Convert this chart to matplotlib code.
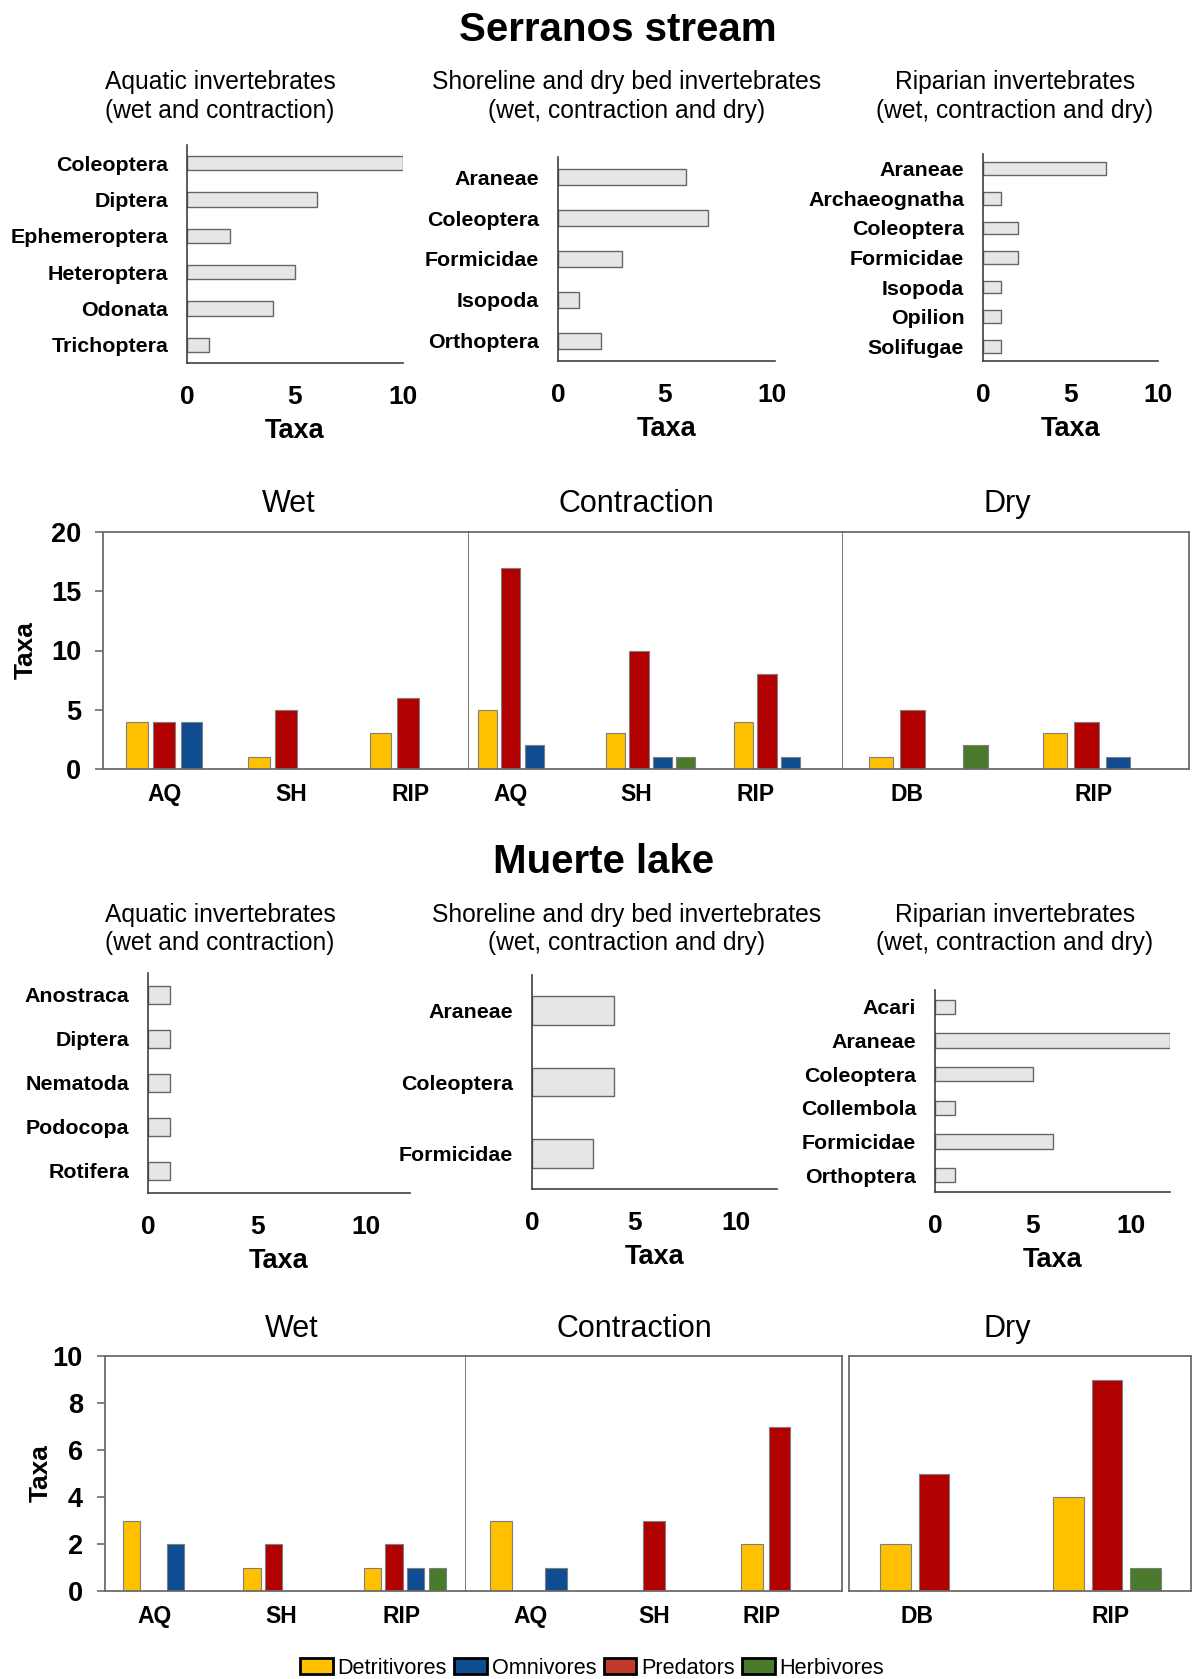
import matplotlib.pyplot as plt
from matplotlib.patches import Patch
import numpy as np

plt.rcParams['font.family'] = ['Liberation Sans', 'DejaVu Sans']

# ---- data: number of taxa per order ----
ser_aq_taxa = ["Coleoptera", "Diptera", "Ephemeroptera", "Heteroptera", "Odonata", "Trichoptera"]
ser_aq_n = [10, 6, 2, 5, 4, 1]
ser_sh_taxa = ["Araneae", "Coleoptera", "Formicidae", "Isopoda", "Orthoptera"]
ser_sh_n = [6, 7, 3, 1, 2]
ser_rip_taxa = ["Araneae", "Archaeognatha", "Coleoptera", "Formicidae", "Isopoda", "Opilion", "Solifugae"]
ser_rip_n = [7, 1, 2, 2, 1, 1, 1]

mue_aq_taxa = ["Anostraca", "Diptera", "Nematoda", "Podocopa", "Rotifera"]
mue_aq_n = [1, 1, 1, 1, 1]
mue_sh_taxa = ["Araneae", "Coleoptera", "Formicidae"]
mue_sh_n = [4, 4, 3]
mue_rip_taxa = ["Acari", "Araneae", "Coleoptera", "Collembola", "Formicidae", "Orthoptera"]
mue_rip_n = [1, 12, 5, 1, 6, 1]

# ---- data: trophic groups (rows: detritivores, predators, omnivores, herbivores) ----
ser_wet_hab = ["AQ", "SH", "RIP"]
ser_wet = [[4, 1, 3], [4, 5, 6], [4, 0, 0], [0, 0, 0]]
ser_con_hab = ["AQ", "SH", "RIP"]
ser_con = [[5, 3, 4], [17, 10, 8], [2, 1, 1], [0, 1, 0]]
ser_dry_hab = ["DB", "RIP"]
ser_dry = [[1, 3], [5, 4], [0, 1], [2, 0]]

mue_wet_hab = ["AQ", "SH", "RIP"]
mue_wet = [[3, 1, 1], [0, 2, 2], [2, 0, 1], [0, 0, 1]]
mue_con_hab = ["AQ", "SH", "RIP"]
mue_con = [[3, 0, 2], [0, 3, 7], [1, 0, 0], [0, 0, 0]]
mue_dry_hab = ["DB", "RIP"]
mue_dry = [[2, 4], [5, 9], [0, 0], [0, 1]]

legend_names = ["Detritivores", "Omnivores", "Predators", "Herbivores"]

bar_cols = ['#FFC000', '#B00000', '#0F4D92', '#4A7A2C']   # det, pred, omn, herb
leg_cols = ['#FFC000', '#0F4D92', '#C0392B', '#4A7A2C']

W, H = 1192, 1679
fig = plt.figure(figsize=(W / 100, H / 100), dpi=100)


def px_axes(x0, y0, x1, y1):
    return fig.add_axes([x0 / W, 1 - y1 / H, (x1 - x0) / W, (y1 - y0) / H])


def ftext(x, y, s, **kw):
    fig.text(x / W, 1 - y / H, s, **kw)


def hbar_panel(box, taxa, n, xmax, bar_h):
    ax = px_axes(*box)
    ax.barh(np.arange(len(taxa)), n, height=bar_h, color='#E6E6E6',
            edgecolor='#666666', linewidth=1)
    ax.set_yticks(np.arange(len(taxa)), taxa)
    ax.set_ylim(len(taxa) - 0.5, -0.5)
    ax.set_xlim(0, xmax)
    ax.set_xticks([0, 5, 10])
    ax.tick_params(axis='both', length=0)
    ax.tick_params(axis='y', pad=13.5, labelsize=15.4)
    ax.tick_params(axis='x', pad=15.5, labelsize=19)
    for lab in ax.get_xticklabels() + ax.get_yticklabels():
        lab.set_fontweight('bold')
    ax.set_xlabel('Taxa', fontsize=19.5, fontweight='bold', labelpad=7)
    for s in ['top', 'right']:
        ax.spines[s].set_visible(False)
    for s in ['left', 'bottom']:
        ax.spines[s].set_color('#404040')
        ax.spines[s].set_linewidth(1.2)
    return ax


def group_panel(box, habs, vals, xlim, step, width, ymax, yticks,
                slots=(-1, 0, 1, 2), lab_shift=None, left_axis=False, left_spine=False):
    ax = px_axes(*box)
    x = np.arange(len(habs))
    for k in range(4):
        if slots[k] is None:
            continue
        v = np.array(vals[k])
        m = v > 0
        ax.bar(x[m] + slots[k] * step, v[m], width=width, color=bar_cols[k],
               edgecolor='#7F7F7F', linewidth=0.8, zorder=2)
    ax.set_xlim(*xlim)
    ax.set_ylim(0, ymax)
    # habitat labels sit roughly under the predator bar
    shift = np.zeros(len(habs)) if lab_shift is None else np.array(lab_shift)
    ax.set_xticks(x + shift, habs)
    ax.tick_params(axis='x', length=0, pad=10, labelsize=16.5)
    for lab in ax.get_xticklabels():
        lab.set_fontweight('bold')
    if left_axis:
        ax.set_yticks(yticks)
        ax.tick_params(axis='y', length=6, width=1.2, color='#6B6B6B',
                       pad=10, labelsize=19.5)
        for lab in ax.get_yticklabels():
            lab.set_fontweight('bold')
    else:
        ax.set_yticks([])
    for s in ax.spines.values():
        s.set_color('#6B6B6B')
        s.set_linewidth(1.3)
    ax.spines['left'].set_visible(left_spine)
    return ax


# ---------------- Serranos stream ----------------
ftext(618, 30, 'Serranos stream', fontsize=29, fontweight='bold', ha='center', va='center')
sub_titles = [("Aquatic invertebrates", "(wet and contraction)", 220),
              ("Shoreline and dry bed invertebrates", "(wet, contraction and dry)", 627),
              ("Riparian invertebrates", "(wet, contraction and dry)", 1015)]
for l1, l2, xc in sub_titles:
    ftext(xc, 82, l1, fontsize=17.7, ha='center', va='center')
    ftext(xc, 111, l2, fontsize=17.7, ha='center', va='center')

hbar_panel((187, 145, 403, 363), ser_aq_taxa, ser_aq_n, 10, 0.4)
hbar_panel((558, 157, 775, 361), ser_sh_taxa, ser_sh_n, 10.15, 0.39)
hbar_panel((983, 154, 1158, 361), ser_rip_taxa, ser_rip_n, 10, 0.43)

group_panel((103.3, 532, 468.8, 769), ser_wet_hab, ser_wet, (-0.5, 2.5), 0.223, 0.176,
            20, [0, 5, 10, 15, 20], lab_shift=[0, 0.04, 0.02],
            left_axis=True, left_spine=True)
group_panel((468.8, 532, 842.7, 769), ser_con_hab, ser_con, (-0.329, 2.591), 0.181, 0.149,
            20, None, lab_shift=[0, -0.02, -0.09])
group_panel((842.7, 532, 1188.9, 769), ser_dry_hab, ser_dry, (-0.401, 1.588), 0.181, 0.141,
            20, None, lab_shift=[-0.03, 0.04])
for name, xc in [("Wet", 289), ("Contraction", 636), ("Dry", 1007)]:
    ftext(xc, 504, name, fontsize=22, ha='center', va='center')
ftext(26, 650, 'Taxa', fontsize=19, fontweight='bold', rotation=90, ha='center', va='center')

# ---------------- Muerte lake ----------------
ftext(604, 862, 'Muerte lake', fontsize=29, fontweight='bold', ha='center', va='center')
for l1, l2, xc in sub_titles:
    ftext(xc, 915, l1, fontsize=17.7, ha='center', va='center')
    ftext(xc, 943, l2, fontsize=17.7, ha='center', va='center')

hbar_panel((148, 973, 410, 1193), mue_aq_taxa, mue_aq_n, 12, 0.4)
hbar_panel((532, 975, 777, 1189), mue_sh_taxa, mue_sh_n, 12, 0.4)
hbar_panel((935, 990, 1170, 1192), mue_rip_taxa, mue_rip_n, 12, 0.42)

group_panel((105.2, 1356, 465.7, 1591), mue_wet_hab, mue_wet, (-0.403, 2.597), 0.181, 0.143,
            10, [0, 2, 4, 6, 8, 10], lab_shift=[0.01, 0.06, 0.06],
            left_axis=True, left_spine=True)
group_panel((465.7, 1356, 842.3, 1591), mue_con_hab, mue_con, (-0.5, 2.5), 0.22, 0.17,
            10, None, lab_shift=[0.02, 0, -0.14])
group_panel((848.5, 1356, 1190.5, 1591), mue_dry_hab, mue_dry, (-0.493, 1.482), 0.222, 0.175,
            10, None, slots=(-1, 0, None, 1), lab_shift=[-0.1, 0.02], left_spine=True)
for name, xc in [("Wet", 292), ("Contraction", 634), ("Dry", 1007)]:
    ftext(xc, 1329, name, fontsize=22, ha='center', va='center')
ftext(41, 1473, 'Taxa', fontsize=19, fontweight='bold', rotation=90, ha='center', va='center')

# legend
handles = [Patch(facecolor=c, edgecolor='black', linewidth=2) for c in leg_cols]
fig.legend(handles, legend_names, loc='center', bbox_to_anchor=(592 / W, 1 - 1668 / H),
           ncol=4, frameon=False, fontsize=15.6, handlelength=1.5, handleheight=0.82,
           handletextpad=0.22, columnspacing=0.35, borderpad=0, borderaxespad=0)

fig.savefig('out.png', dpi=100)
